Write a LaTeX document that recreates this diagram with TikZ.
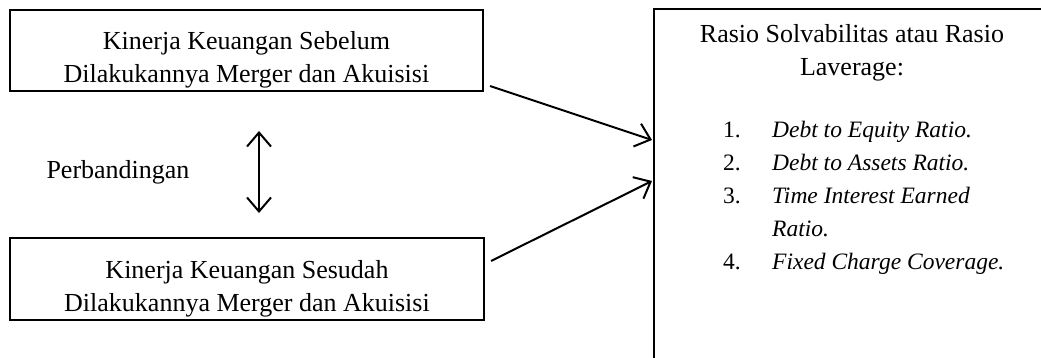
\documentclass[tikz,border=0pt]{standalone}
\usepackage{fontspec}
\setmainfont{Liberation Serif}
\usetikzlibrary{arrows.meta}
\begin{document}
\begin{tikzpicture}[x=1pt,y=-1pt,
  font=\fontsize{26}{33}\selectfont,
  box/.style={draw, line width=2pt, inner sep=0pt},
  txt/.style={align=center, inner sep=0pt},
  arr/.style={line width=2pt, -{Straight Barb[length=14pt,width=24pt,line width=2pt]}},
  darr/.style={line width=2pt, {Straight Barb[length=14pt,width=24pt,line width=2pt]}-{Straight Barb[length=14pt,width=24pt,line width=2pt]}}]
\useasboundingbox (0,0) rectangle (1041,358);
\node[box, minimum width=473pt, minimum height=81pt] (tb) at (246.5,50.5) {};
\node[txt] (tbt) at ([yshift=-9pt]tb.center)
  {Kinerja Keuangan Sebelum\\Dilakukannya Merger dan Akuisisi};
\node[box, minimum width=474pt, minimum height=82pt] (bb) at (247,279) {};
\node[txt] (bbt) at ([yshift=-10pt]bb.center)
  {Kinerja Keuangan Sesudah\\Dilakukannya Merger dan Akuisisi};
\node[box, minimum width=420pt, minimum height=380pt, anchor=north west] (rb) at (653,8) {};
\node[txt] (rt) at (852,52.5) {Rasio Solvabilitas atau Rasio\\Laverage:};
\node[align=left, inner sep=0pt, anchor=north west, font=\fontsize{23.5}{33}\selectfont] (rl) at (723,121)
  {\makebox[49pt][l]{1.}\textit{Debt to Equity Ratio.}\\
   \makebox[49pt][l]{2.}\textit{Debt to Assets Ratio.}\\
   \makebox[49pt][l]{3.}\textit{Time Interest Earned}\\
   \hspace*{49pt}\textit{Ratio.}\\
   \makebox[49pt][l]{4.}\textit{Fixed Charge Coverage.}};
\node (pb) at (118,172) {Perbandingan};
\coordinate (c1) at (259,131);
\coordinate (c2) at (259,213);
\draw[darr] (c1) -- (c2);
\draw[arr] ([shift={(6,-6)}]tb.south east) -- ([shift={(-1,132)}]rb.north west);
\draw[arr] ([shift={(6,24)}]bb.north east) -- ([shift={(-1,173)}]rb.north west);
\end{tikzpicture}
\end{document}
